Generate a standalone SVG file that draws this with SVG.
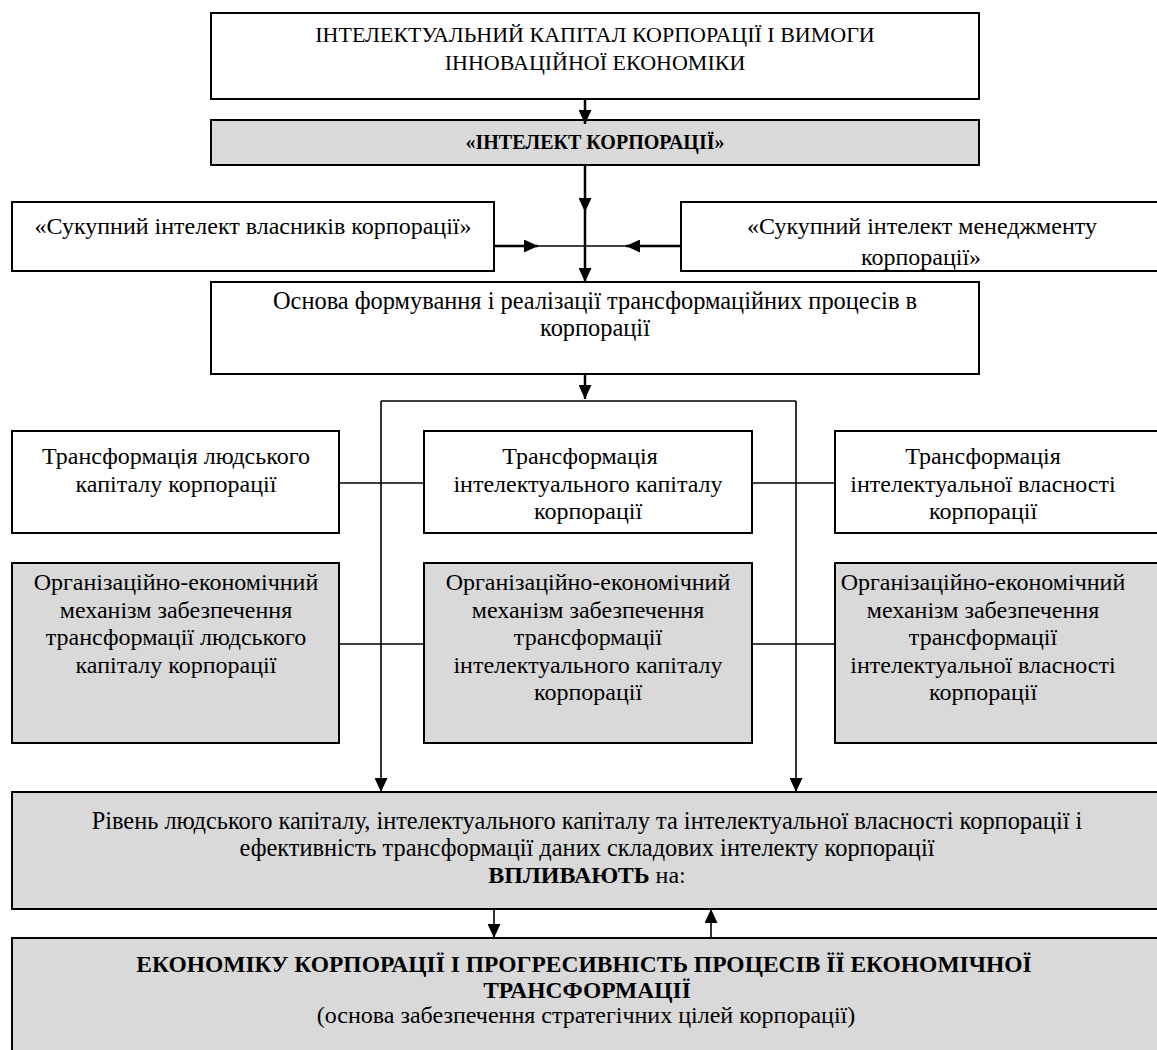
<svg xmlns="http://www.w3.org/2000/svg" width="1157" height="1050" viewBox="0 0 1157 1050">
<style>
.box{fill:#fff;stroke:#000;stroke-width:2}
.gray{fill:#d9d9d9;stroke:#000;stroke-width:2}
text{font-family:"Liberation Serif","Times New Roman",serif;font-size:24px;fill:#000;text-anchor:middle}
.b{font-weight:bold}
.cap{font-size:22px}
.hdr{font-size:20px;font-weight:bold}
.big{font-size:23.5px;font-weight:bold}
.wide{font-size:24.4px}
.thick{stroke:#000;stroke-width:2.5;fill:none}
.thin{stroke:#000;stroke-width:1.6;fill:none}
</style>
<defs>
<marker id="ah" markerUnits="userSpaceOnUse" markerWidth="14" markerHeight="13" refX="14" refY="6.5" orient="auto">
<path d="M0,0 L14,6.5 L0,13 z" fill="#000"/>
</marker>
<clipPath id="clipR"><rect x="682" y="203" width="480" height="67"/></clipPath>
</defs>
<rect width="1157" height="1050" fill="#fff"/>

<g id="n-top">
<rect class="box" x="211" y="13" width="768" height="86"/>
<text class="cap" x="595" y="42">ІНТЕЛЕКТУАЛЬНИЙ КАПІТАЛ КОРПОРАЦІЇ І ВИМОГИ</text>
<text class="cap" x="595" y="70">ІННОВАЦІЙНОЇ ЕКОНОМІКИ</text>
</g>

<g id="n-intellect">
<rect class="gray" x="211" y="120" width="768" height="45"/>
<text class="hdr" x="595" y="149">«ІНТЕЛЕКТ КОРПОРАЦІЇ»</text>
</g>

<g id="n-owners">
<rect class="box" x="12" y="202" width="482" height="69"/>
<text x="253" y="234">«Сукупний інтелект власників корпорації»</text>
</g>

<g id="n-management">
<rect class="box" x="681" y="202" width="490" height="69"/>
<g clip-path="url(#clipR)">
<text x="922" y="234">«Сукупний інтелект менеджменту</text>
<text x="921" y="265">корпорації»</text>
</g>
</g>

<g id="n-basis">
<rect class="box" x="211" y="282" width="768" height="92"/>
<text class="wide" x="595" y="309">Основа формування і реалізації трансформаційних процесів в</text>
<text class="wide" x="595" y="336">корпорації</text>
</g>

<g id="n-t-human">
<rect class="box" x="12" y="431" width="327" height="102"/>
<text x="176" y="464">Трансформація людського</text>
<text x="176" y="491.5">капіталу корпорації</text>
</g>

<g id="n-t-intcap">
<rect class="box" x="424" y="431" width="328" height="102"/>
<text x="580" y="464">Трансформація</text>
<text x="588" y="491.5">інтелектуального капіталу</text>
<text x="588" y="519">корпорації</text>
</g>

<g id="n-t-intprop">
<rect class="box" x="835" y="431" width="330" height="102"/>
<text x="983" y="464">Трансформація</text>
<text x="983" y="491.5">інтелектуальної власності</text>
<text x="983" y="519">корпорації</text>
</g>

<g id="n-m-human">
<rect class="gray" x="12" y="563" width="327" height="180"/>
<text x="176" y="590">Організаційно-економічний</text>
<text x="176" y="617.5">механізм забезпечення</text>
<text x="176" y="645">трансформації людського</text>
<text x="176" y="672.5">капіталу корпорації</text>
</g>

<g id="n-m-intcap">
<rect class="gray" x="424" y="563" width="328" height="180"/>
<text x="588" y="590">Організаційно-економічний</text>
<text x="588" y="617.5">механізм забезпечення</text>
<text x="588" y="645">трансформації</text>
<text x="588" y="672.5">інтелектуального капіталу</text>
<text x="588" y="700">корпорації</text>
</g>

<g id="n-m-intprop">
<rect class="gray" x="835" y="563" width="330" height="180"/>
<text x="983" y="590">Організаційно-економічний</text>
<text x="983" y="617.5">механізм забезпечення</text>
<text x="983" y="645">трансформації</text>
<text x="983" y="672.5">інтелектуальної власності</text>
<text x="983" y="700">корпорації</text>
</g>

<g id="n-level">
<rect class="gray" x="12" y="792" width="1160" height="117"/>
<text class="wide" x="587" y="829">Рівень людського капіталу, інтелектуального капіталу та інтелектуальної власності корпорації і</text>
<text class="wide" x="587" y="856">ефективність трансформації даних складових інтелекту корпорації</text>
<text x="587" y="883"><tspan class="b">ВПЛИВАЮТЬ</tspan> на:</text>
</g>

<g id="n-economy">
<rect class="gray" x="12" y="938" width="1160" height="130"/>
<text class="big" x="584" y="972">ЕКОНОМІКУ КОРПОРАЦІЇ І ПРОГРЕСИВНІСТЬ ПРОЦЕСІВ ЇЇ ЕКОНОМІЧНОЇ</text>
<text class="big" x="587" y="998">ТРАНСФОРМАЦІЇ</text>
<text x="586" y="1023">(основа забезпечення стратегічних цілей корпорації)</text>
</g>

<g id="connectors">
<line class="thick" x1="585" y1="99" x2="585" y2="124" marker-end="url(#ah)"/>
<line class="thick" x1="585" y1="165" x2="585" y2="212" marker-end="url(#ah)"/>
<line class="thick" x1="585" y1="212" x2="585" y2="282" marker-end="url(#ah)"/>
<line class="thin" x1="538" y1="246" x2="626" y2="246"/>
<line class="thick" x1="494" y1="246" x2="538" y2="246" marker-end="url(#ah)"/>
<line class="thick" x1="681" y1="246" x2="626" y2="246" marker-end="url(#ah)"/>
<line class="thick" x1="585" y1="374" x2="585" y2="399" marker-end="url(#ah)"/>
<path class="thin" d="M381,401 H796"/>
<line class="thin" x1="381" y1="401" x2="381" y2="792" marker-end="url(#ah)"/>
<line class="thin" x1="796" y1="401" x2="796" y2="792" marker-end="url(#ah)"/>
<line class="thin" x1="339" y1="483" x2="424" y2="483"/>
<line class="thin" x1="752" y1="483" x2="835" y2="483"/>
<line class="thin" x1="339" y1="644" x2="424" y2="644"/>
<line class="thin" x1="752" y1="644" x2="835" y2="644"/>
<line class="thin" x1="494" y1="909" x2="494" y2="938" marker-end="url(#ah)"/>
<line class="thin" x1="711" y1="938" x2="711" y2="909" marker-end="url(#ah)"/>
</g>
</svg>
